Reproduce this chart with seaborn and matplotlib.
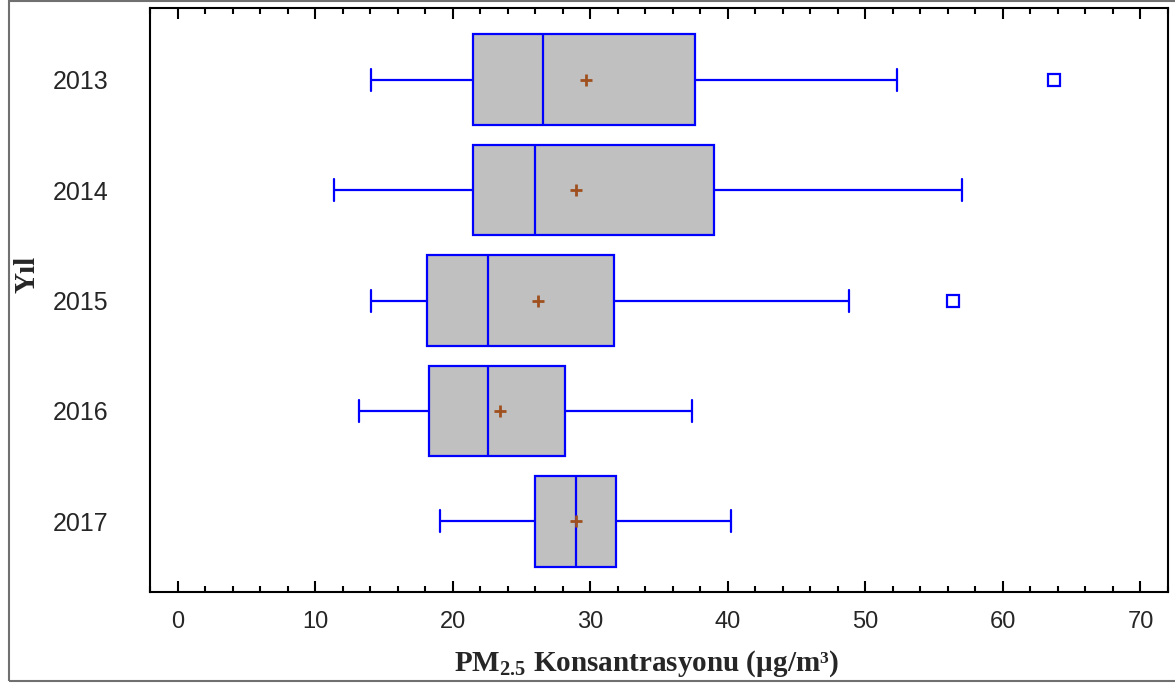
import matplotlib
matplotlib.use("Agg")
import matplotlib.pyplot as plt
from matplotlib.ticker import MultipleLocator
from matplotlib.patches import Rectangle
import seaborn as sns
import pandas as pd

# ---- values ----
years = ["2013", "2014", "2015", "2016", "2017"]
whisker_low = [14.1, 11.4, 14.1, 13.2, 19.1]
q1 = [21.5, 21.5, 18.1, 18.3, 26.0]
median = [26.6, 26.0, 22.6, 22.6, 28.95]
q3 = [37.6, 39.0, 31.7, 28.2, 31.9]
whisker_high = [52.3, 57.0, 48.8, 37.4, 40.2]
outliers = [[63.7], [], [56.4], [], []]
means = [29.7, 28.95, 26.2, 23.45, 29.0]
x_ticks = [0, 10, 20, 30, 40, 50, 60, 70]

# Build samples whose five-number summary equals the read values
rows = []
for y, lo, a, m, b, hi, out in zip(years, whisker_low, q1, median, q3, whisker_high, outliers):
    vals = [lo, a, a, m, m, m, b]
    vals += ([b, hi] if not out else [hi] + out)
    rows += [(y, v) for v in vals]
df = pd.DataFrame(rows, columns=["year", "value"])
mean_df = pd.DataFrame({"year": years, "mean": means})

sns.set_style("white")
plt.rcParams["font.family"] = ["Liberation Sans", "DejaVu Sans"]
plt.rcParams["mathtext.fontset"] = "custom"
plt.rcParams["mathtext.rm"] = "Liberation Serif:bold"
plt.rcParams["mathtext.bf"] = "Liberation Serif:bold"

fig = plt.figure(figsize=(11.75, 6.83), dpi=100)
ax = fig.add_axes([150 / 1175, 1 - 592 / 683, 1018 / 1175, 584 / 683])

BLUE = "#0000ff"
box_kws = dict(
    data=df, x="value", y="year", order=years, orient="h",
    width=0.82, whis=1.5, color="#c0c0c0",
    linecolor=BLUE, linewidth=1.6,
    boxprops=dict(facecolor="#c0c0c0", edgecolor=BLUE, linewidth=1.6),
    medianprops=dict(color=BLUE, linewidth=1.6),
    whiskerprops=dict(color=BLUE, linewidth=1.6),
    capprops=dict(color=BLUE, linewidth=1.6),
    flierprops=dict(marker="s", markerfacecolor="none", markeredgecolor=BLUE,
                    markersize=8, markeredgewidth=1.6),
    ax=ax,
)
try:
    sns.boxplot(capwidths=0.2, **box_kws)
except TypeError:
    ax.cla()
    sns.boxplot(**box_kws)

sns.pointplot(data=mean_df, x="mean", y="year", order=years, orient="h",
              linestyle="none", marker="+", color="#a0501e", errorbar=None,
              markersize=9, markeredgewidth=2, ax=ax, zorder=5)

ax.set_xlim(-2, 72)
ax.set_ylim(4.64, -0.65)
ax.set_xticks(x_ticks)
ax.xaxis.set_minor_locator(MultipleLocator(2))
ax.tick_params(axis="x", which="both", direction="in", top=True, bottom=True,
               width=1.5, color="black", labelsize=17, pad=14)
ax.tick_params(axis="x", which="major", length=8)
ax.tick_params(axis="x", which="minor", length=4)
ax.tick_params(axis="y", length=0, pad=30, labelsize=18)
for s in ax.spines.values():
    s.set_visible(True)
    s.set_color("black")
    s.set_linewidth(1.5)

ax.set_xlabel(r"PM$_{\mathrm{2.5}}$ Konsantrasyonu (µg/m³)",
              family="Liberation Serif", fontweight="bold", fontsize=21)
ax.xaxis.set_label_coords(0.488, -0.097)
ax.set_ylabel("Yıl", family="Liberation Serif", fontweight="bold", fontsize=21)
ax.yaxis.set_label_coords(-0.108, 0.543)

fig.add_artist(Rectangle((9 / 1175, 2 / 683), 1.0, 680 / 683, transform=fig.transFigure,
                         fill=False, edgecolor="#707070", linewidth=1.5, clip_on=False))

fig.savefig("out.png", dpi=100)
